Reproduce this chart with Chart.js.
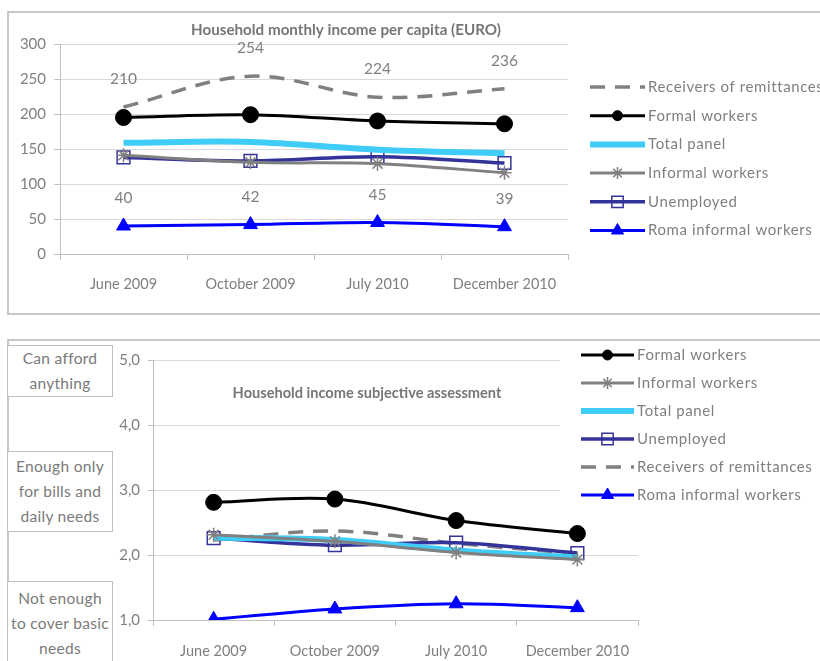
<!DOCTYPE html>
<html lang="en">
<head>
  <meta charset="UTF-8" />
  <title>Household income</title>
  <script src="https://cdn.jsdelivr.net/npm/chart.js"></script>
  <style>
    body { margin: 0; background: #fff; font-family: Lato, sans-serif; }
    .frame { position: absolute; border: 2px solid #c8c8c8; box-sizing: border-box; }
    .wrap { position: absolute; }
    .level { position: absolute; left: 7px; width: 106px; border: 1px solid #bfbfbf; box-sizing: border-box;
             color: #7a7a7a; font-size: 15.5px; line-height: 25px; text-align: center; background: #fff; letter-spacing: 0.3px; }
  </style>
</head>
<body>
  <div class="frame" style="left:7px; top:11px; width:820px; height:304px;"></div>
  <div class="frame" style="left:7px; top:339px; width:820px; height:330px;"></div>

  <div class="wrap" style="left:8px; top:12px; width:812px; height:302px;"><canvas id="incomeChart"></canvas></div>
  <div class="wrap" style="left:8px; top:341px; width:812px; height:320px;"><canvas id="assessChart"></canvas></div>

  <div class="level" style="top:345px; height:52px;">Can afford<br>anything</div>
  <div class="level" style="top:451px; height:81px; padding-top:2px;">Enough only<br>for bills and<br>daily needs</div>
  <div class="level" style="top:581px; height:90px; padding-top:4px;">Not enough<br>to cover basic<br>needs</div>

  <script>
    const categories = ['June 2009', 'October 2009', 'July 2010', 'December 2010'];

    // top chart: monthly income per capita (EURO)
    const incRemit = [210, 254, 224, 236];
    const incFormal = [195, 199, 190, 186];
    const incTotal = [159, 160, 149, 144];
    const incInformal = [141, 131, 129, 116];
    const incUnemployed = [138, 133, 139, 130];
    const incRoma = [40, 42, 45, 39];
    const incTicks = [0, 50, 100, 150, 200, 250, 300];

    // bottom chart: subjective assessment (1-5)
    const subFormal = [2.81, 2.86, 2.53, 2.33];
    const subInformal = [2.31, 2.21, 2.04, 1.93];
    const subTotal = [2.27, 2.23, 2.07, 1.96];
    const subUnemployed = [2.26, 2.15, 2.19, 2.03];
    const subRemit = [2.23, 2.37, 2.18, 2.02];
    const subRoma = [1.01, 1.17, 1.25, 1.19];
    const subTicks = [1, 2, 3, 4, 5];

    const textGray = '#7f7f7f';
    const gridGray = '#d9d9d9';
    const axisGray = '#bfbfbf';

    // series styles
    const styles = {
      remit:      { label: 'Receivers of remittances', borderColor: '#808080', borderWidth: 3.5, borderDash: [15, 10], pointRadius: 0, pointStyle: false },
      formal:     { label: 'Formal workers', borderColor: '#000000', backgroundColor: '#000000', borderWidth: 3, pointStyle: 'circle', pointRadius: 8, legendRadius: 5 },
      total:      { label: 'Total panel', borderColor: '#3fcdf7', borderWidth: 6, pointRadius: 0, pointStyle: false },
      informal:   { label: 'Informal workers', borderColor: '#808080', backgroundColor: '#808080', borderWidth: 3, pointStyle: 'star', pointRadius: 7, pointBorderWidth: 1.5, legendRadius: 6 },
      unemployed: { label: 'Unemployed', borderColor: '#333399', backgroundColor: 'rgba(0,0,0,0)', borderWidth: 3.5, pointStyle: 'rect', pointRadius: 9, pointBorderWidth: 1.5, legendRadius: 8 },
      roma:       { label: 'Roma informal workers', borderColor: '#0000ff', backgroundColor: '#0000ff', borderWidth: 3, pointStyle: 'triangle', pointRadius: 8, legendRadius: 7 }
    };

    function series(key, data) {
      const s = styles[key];
      return Object.assign({
        data: data,
        fill: false,
        tension: 0.35,
        pointBorderColor: s.borderColor,
        pointBackgroundColor: s.backgroundColor,
        pointBorderWidth: s.pointBorderWidth || 1
      }, s);
    }

    // legend drawn straight on the canvas
    const sideLegend = {
      id: 'sideLegend',
      afterDraw(chart, args, opts) {
        const ctx = chart.ctx;
        ctx.save();
        if (opts.clear) {
          ctx.fillStyle = '#fff';
          ctx.fillRect(opts.clear[0], opts.clear[1], opts.clear[2], opts.clear[3]);
        }
        opts.order.forEach((idx, i) => {
          const ds = chart.data.datasets[idx];
          const y = opts.y + i * opts.step;
          const x0 = opts.x, x1 = opts.x + opts.len;
          ctx.beginPath();
          ctx.strokeStyle = ds.borderColor;
          ctx.lineWidth = ds.borderWidth;
          ctx.setLineDash(ds.borderDash || []);
          ctx.moveTo(x0, y);
          ctx.lineTo(x1, y);
          ctx.stroke();
          ctx.setLineDash([]);
          if (ds.pointStyle) {
            ctx.fillStyle = ds.backgroundColor;
            ctx.strokeStyle = ds.borderColor;
            ctx.lineWidth = ds.pointBorderWidth || 1;
            Chart.helpers.drawPoint(ctx, { pointStyle: ds.pointStyle, radius: ds.legendRadius, rotation: 0, borderWidth: ds.pointBorderWidth || 1 }, (x0 + x1) / 2, y);
          }
          ctx.fillStyle = textGray;
          ctx.font = '15px Lato';
          ctx.letterSpacing = '0.6px';
          ctx.textBaseline = 'middle';
          ctx.textAlign = 'left';
          ctx.fillText(ds.label, x1 + 3, y);
        });
        ctx.restore();
      }
    };

    // title placed at a fixed spot
    const fixedTitle = {
      id: 'fixedTitle',
      beforeDatasetsDraw(chart, args, opts) {
        const ctx = chart.ctx;
        ctx.save();
        ctx.fillStyle = '#767676';
        ctx.font = 'bold ' + opts.size + 'px Lato';
        ctx.textAlign = 'center';
        ctx.textBaseline = 'middle';
        ctx.fillText(opts.text, opts.x, opts.y);
        ctx.restore();
      }
    };

    // value labels above the points of chosen series
    const valueLabels = {
      id: 'valueLabels',
      afterDatasetsDraw(chart, args, opts) {
        const ctx = chart.ctx;
        ctx.save();
        ctx.fillStyle = textGray;
        ctx.font = '15.5px Lato';
        ctx.textAlign = 'center';
        ctx.textBaseline = 'middle';
        (opts.sets || []).forEach(idx => {
          const meta = chart.getDatasetMeta(idx);
          meta.data.forEach((pt, i) => {
            ctx.fillText(chart.data.datasets[idx].data[i], pt.x, pt.y - opts.offset);
          });
        });
        ctx.restore();
      }
    };

    function axes(ticks, yWidth, xHeight, yTickLen, yPad, xPad, fmt) {
      return {
        x: {
          offset: true,
          afterFit(scale) { scale.height = xHeight; },
          grid: { offset: true, drawOnChartArea: false, tickLength: 6, color: axisGray, tickColor: axisGray },
          border: { color: axisGray, width: 1 },
          ticks: { color: textGray, font: { family: 'Lato', size: 14.5 }, padding: xPad, maxRotation: 0 }
        },
        y: {
          min: ticks[0],
          max: ticks[ticks.length - 1],
          afterFit(scale) { scale.width = yWidth; },
          afterBuildTicks(scale) { scale.ticks = ticks.map(v => ({ value: v })); },
          grid: { color: gridGray, tickColor: axisGray, tickLength: yTickLen },
          border: { color: axisGray, width: 1 },
          ticks: { color: textGray, font: { family: 'Lato', size: 15 }, padding: yPad, callback: fmt }
        }
      };
    }

    new Chart(document.getElementById('incomeChart'), {
      type: 'line',
      data: {
        labels: categories,
        datasets: [
          series('remit', incRemit),
          series('formal', incFormal),
          series('total', incTotal),
          series('informal', incInformal),
          series('unemployed', incUnemployed),
          series('roma', incRoma)
        ]
      },
      plugins: [sideLegend, fixedTitle, valueLabels],
      options: {
        responsive: true,
        maintainAspectRatio: false,
        animation: false,
        layout: { padding: { top: 32, right: 252, left: 0, bottom: 0 } },
        scales: axes(incTicks, 52, 60, 6, 8, 16, v => v),
        plugins: {
          legend: { display: false },
          tooltip: { enabled: false },
          fixedTitle: { text: 'Household monthly income per capita (EURO)', x: 338, y: 18, size: 15.2 },
          sideLegend: { order: [0, 1, 2, 3, 4, 5], x: 582, y: 75, step: 28.7, len: 55 },
          valueLabels: { sets: [0, 5], offset: 28 }
        }
      }
    });

    new Chart(document.getElementById('assessChart'), {
      type: 'line',
      data: {
        labels: categories,
        datasets: [
          series('formal', subFormal),
          series('informal', subInformal),
          series('total', subTotal),
          series('unemployed', subUnemployed),
          series('remit', subRemit),
          series('roma', subRoma)
        ]
      },
      plugins: [sideLegend, fixedTitle],
      options: {
        responsive: true,
        maintainAspectRatio: false,
        animation: false,
        layout: { padding: { top: 19, right: 182, left: 0, bottom: 0 } },
        scales: axes(subTicks, 145, 41, 5, 8, 17, v => v.toFixed(1).replace('.', ',')),
        plugins: {
          legend: { display: false },
          tooltip: { enabled: false },
          fixedTitle: { text: 'Household income subjective assessment', x: 359, y: 52, size: 14.6 },
          sideLegend: { order: [0, 1, 2, 3, 4, 5], x: 573, y: 14, step: 28, len: 53, clear: [552, 0, 260, 168] }
        }
      }
    });
  </script>
</body>
</html>
